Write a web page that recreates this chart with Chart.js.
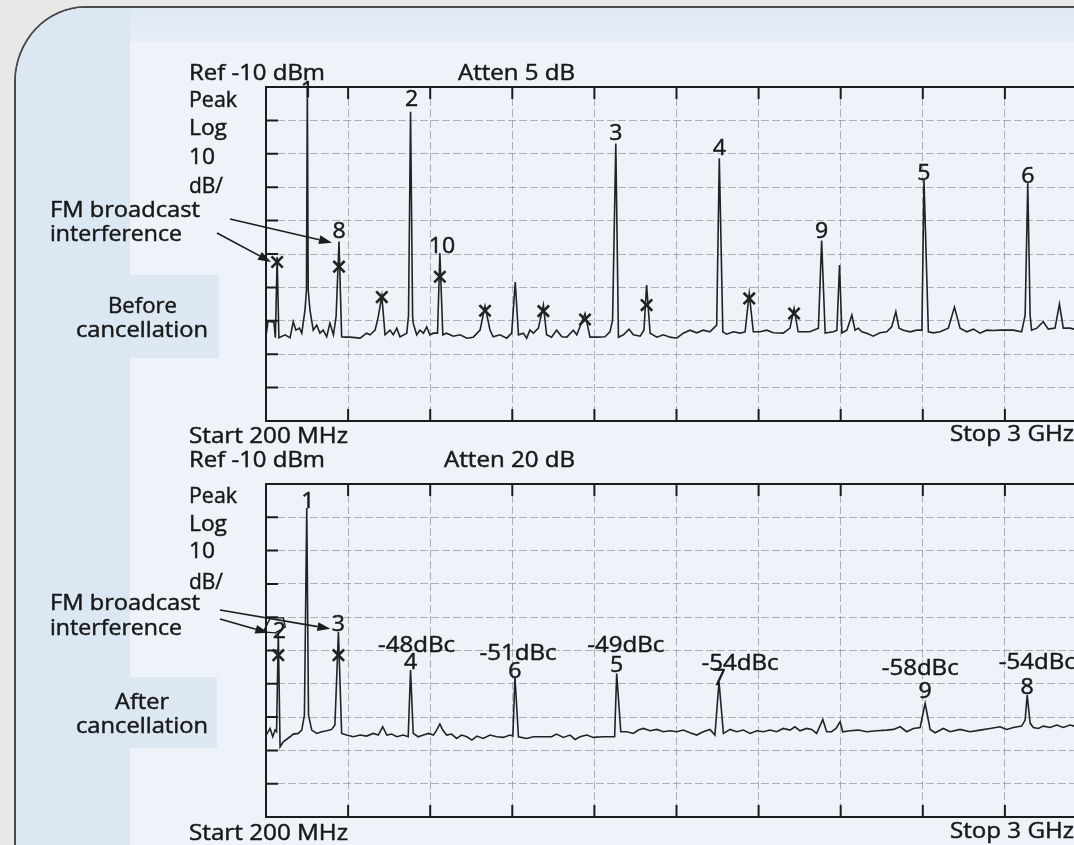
<!DOCTYPE html>
<html><head><meta charset="utf-8">
<script src="https://cdn.jsdelivr.net/npm/chart.js@4.4.1/dist/chart.umd.min.js"></script>
<style>
html,body{margin:0;padding:0;width:1074px;height:845px;overflow:hidden;background:#e8e8e8;}
#panel{position:absolute;left:14px;top:6px;width:1130px;height:900px;box-sizing:border-box;border:2px solid #4a4a4a;border-top-left-radius:72px 76px;overflow:hidden;background:#eef3f9;}
#strip{position:absolute;left:0;top:0;width:114px;height:100%;background:#dbe7f3;}
#band{position:absolute;left:0;top:0;width:100%;height:34px;background:linear-gradient(#dfe9f4,#e7eef7);}
.tab{position:absolute;background:#dde8f3;}
canvas{position:absolute;left:0;top:0;}
</style></head>
<body>
<div id="panel"><div id="band"></div><div id="strip"></div>
<div class="tab" style="left:114px;top:267px;width:89px;height:83px"></div>
<div class="tab" style="left:114px;top:669px;width:87px;height:71px"></div>
</div>
<canvas id="c1" width="1100" height="845" style="width:1100px;height:845px"></canvas>
<canvas id="c2" width="1100" height="845" style="width:1100px;height:845px"></canvas>
<script>
// ---------- data ----------
const freqTicks = [200,480,760,1040,1320,1600,1880,2160,2440,2720,3000];
const levelTicks = [-10,-20,-30,-40,-50,-60,-70,-80,-90,-100,-110];

const topTraceMHz = [200,207,227,232,238,244,265,282,293,302,314,322,333,338,341,344,350,361,373,384,395,407,418,430,439,449,458,469,487,521,543,555,572,582,595,606,623,634,646,657,680,686,693,700,702,714,725,737,748,759,771,785,793,803,816,839,862,885,907,930,947,964,975,998,1021,1038,1050,1061,1078,1089,1100,1112,1129,1146,1157,1174,1191,1209,1226,1248,1260,1288,1305,1328,1356,1373,1382,1393,1402,1419,1438,1453,1476,1489,1498,1510,1533,1555,1578,1601,1623,1646,1669,1691,1714,1737,1746,1758,1771,1794,1817,1834,1848,1862,1885,1908,1930,1964,1987,2001,2015,2033,2055,2084,2095,2107,2135,2147,2156,2164,2181,2198,2209,2220,2232,2249,2271,2294,2317,2334,2348,2359,2374,2397,2419,2437,2444,2459,2476,2499,2527,2548,2567,2590,2613,2635,2658,2681,2703,2749,2777,2789,2798,2806,2811,2829,2851,2868,2891,2906,2919,2942,2956,3000];
const topTraceDbm = [-84.6,-80.1,-80.4,-85.1,-60.9,-85.1,-84.2,-85.1,-80.3,-82.8,-82.2,-83.7,-76.8,-70.8,-10,-70.8,-76.8,-82.8,-81.3,-83.7,-82.8,-84.8,-80.7,-84.2,-78.8,-56.3,-84.8,-84.9,-84.9,-85.2,-83.7,-84.2,-82.8,-79.2,-72.6,-84.2,-82.8,-84.2,-82.2,-84.8,-83.7,-78.6,-17.4,-78.6,-80.7,-84.2,-82.8,-83.7,-81.8,-84.2,-83.7,-83.7,-59.7,-84.2,-83.7,-84.6,-84.2,-85.2,-84.9,-82.8,-75.6,-82.8,-84.8,-84.2,-85.2,-83.7,-68.4,-84.2,-83.7,-85.2,-82.8,-83.7,-82.2,-75.3,-84.2,-84.9,-82.8,-84.8,-84.9,-82.8,-84.2,-77.8,-84.9,-84.9,-84.8,-83.3,-79.8,-26.9,-84.9,-84.2,-82.5,-84.2,-84.6,-82.8,-69.3,-83.7,-84.9,-84.2,-84.9,-85.2,-83.7,-82.8,-83.6,-82.8,-83.3,-81.3,-31.3,-83.3,-84.0,-83.3,-83.7,-83.3,-71.8,-83.3,-83.3,-82.8,-83.6,-83.7,-82.2,-76.3,-83.3,-83.3,-83.3,-82.2,-56.0,-83.7,-83.3,-82.8,-63.3,-83.6,-82.8,-78.3,-82.8,-82.2,-83.3,-83.7,-84.6,-83.6,-83.3,-81.8,-77.3,-82.2,-82.8,-83.3,-82.8,-82.8,-37.8,-83.3,-83.6,-83.3,-82.2,-75.9,-82.2,-83.3,-82.5,-83.7,-82.8,-82.9,-82.8,-82.8,-83.3,-78.3,-38.8,-78.3,-82.8,-82.2,-80.3,-82.5,-82.2,-75.0,-82.2,-82.2,-82.5,-82.8];

const bottomTraceMHz = [200,204,214,223,231,236,242,248,259,282,293,310,322,331,339,345,356,373,390,407,424,435,447,458,475,498,521,543,566,583,598,612,629,646,668,685,693,702,719,737,754,771,782,793,803,816,833,850,867,885,902,919,941,964,987,1009,1032,1042,1049,1061,1089,1112,1146,1174,1191,1214,1237,1254,1271,1294,1316,1350,1379,1389,1396,1410,1430,1453,1470,1487,1510,1533,1555,1578,1601,1623,1646,1669,1691,1714,1731,1745,1760,1783,1805,1828,1851,1874,1896,1919,1942,1964,1987,2004,2021,2044,2061,2078,2099,2112,2129,2144,2158,2167,2192,2220,2249,2283,2317,2340,2363,2385,2408,2431,2448,2465,2482,2510,2533,2567,2601,2635,2670,2703,2726,2749,2777,2789,2796,2806,2817,2834,2851,2874,2897,2919,2942,2956,3000];
const bottomTraceDbm = [-85.4,-84.9,-83.4,-85.9,-83.9,-84.4,-54.7,-88.9,-87.4,-85.9,-85.1,-84.9,-83.9,-79.4,-17.2,-79.4,-83.9,-84.9,-84.4,-84.1,-83.7,-82.4,-54.4,-84.9,-85.4,-85.9,-85.4,-85.7,-84.9,-85.4,-82.9,-85.4,-85.1,-85.9,-85.4,-85.9,-65.9,-84.9,-85.9,-85.4,-84.9,-85.4,-83.9,-82.1,-83.9,-85.4,-85.1,-86.4,-85.4,-85.9,-86.9,-85.7,-86.4,-85.4,-85.9,-86.1,-85.4,-85.7,-67.9,-85.9,-86.4,-85.9,-85.9,-85.9,-85.1,-86.1,-85.4,-86.7,-85.9,-85.4,-86.1,-85.9,-85.9,-85.9,-66.9,-84.4,-84.4,-84.9,-83.9,-83.4,-84.1,-83.7,-84.4,-84.1,-84.4,-83.9,-84.7,-85.4,-84.4,-83.7,-85.4,-69.4,-84.9,-83.7,-84.4,-83.9,-84.9,-84.1,-84.4,-83.9,-84.4,-83.4,-83.9,-82.9,-84.1,-83.4,-83.7,-84.9,-80.7,-84.4,-84.4,-83.4,-81.4,-84.4,-84.1,-83.9,-84.4,-84.1,-83.9,-83.7,-82.9,-84.4,-83.4,-83.1,-75.9,-83.7,-84.7,-83.4,-84.4,-83.7,-84.4,-83.9,-83.4,-82.9,-83.7,-83.1,-82.7,-80.9,-73.4,-81.8,-83.1,-83.4,-82.7,-83.1,-82.4,-83.1,-82.4,-82.7,-82.7];

const topMarkMHz = [238,449,595,793,947,1146,1288,1498,1848,2001];
const topMarkDbm = [-62.4,-63.8,-72.9,-66.8,-77.0,-77.1,-79.6,-75.3,-73.3,-77.8];
const bottomMarkMHz = [242,447];
const bottomMarkDbm = [-61.4,-61.4];

const topPeakLabel = ['1','2','3','4','5','6','8','9','10'];
const topPeakMHz = [341,693,1393,1746,2444,2798,449,2095,793];
const topPeakDbm = [-10,-17.4,-26.9,-31.3,-37.8,-38.8,-56.3,-56.0,-59.7];

const bottomPeakLabel = ['1','2','3','4','6','5','7','9','8'];
const bottomPeakMHz = [339,242,447,693,1049,1396,1745,2448,2796];
const bottomPeakDbm = [-17.2,-54.7,-54.4,-65.9,-67.9,-66.9,-69.4,-75.9,-73.4];
const bottomPeakDbc = ['','','','-48dBc','-51dBc','-49dBc','-54dBc','-58dBc','-54dBc'];

// ---------- styling / layout ----------
const INK = '#1c1c1c';
const FONT = '"Open Sans", "Noto Sans", sans-serif';

function fitText(ctx, s, x, y, size, w, align) {
  ctx.save();
  ctx.font = size + 'px ' + FONT;
  ctx.textBaseline = 'alphabetic';
  ctx.textAlign = align || 'left';
  ctx.fillStyle = '#181818';
  ctx.strokeStyle = '#181818';
  ctx.lineWidth = 0.45;
  const m = ctx.measureText(s).width;
  const k = w ? w / m : 1.1;
  ctx.translate(x, y);
  ctx.scale(k, 1);
  ctx.fillText(s, 0, 0);
  ctx.strokeText(s, 0, 0);
  ctx.restore();
}
function arrow(ctx, x1, y1, x2, y2) {
  const ang = Math.atan2(y2 - y1, x2 - x1), L = 13, W = 4.5;
  const bx = x2 - L * Math.cos(ang), by = y2 - L * Math.sin(ang);
  ctx.beginPath(); ctx.moveTo(x1, y1); ctx.lineTo(bx, by); ctx.stroke();
  ctx.beginPath(); ctx.moveTo(x2, y2);
  ctx.lineTo(bx + W * Math.sin(ang), by - W * Math.cos(ang));
  ctx.lineTo(bx - W * Math.sin(ang), by + W * Math.cos(ang));
  ctx.closePath(); ctx.fill();
}

const annot = {
  id: 'annot',
  afterDatasetsDraw(chart, args, o) {
    const { ctx, chartArea: a, scales: { x, y } } = chart;
    ctx.save();
    ctx.strokeStyle = INK; ctx.fillStyle = INK; ctx.lineWidth = 2;
    ctx.strokeRect(a.left, a.top, a.right - a.left, a.bottom - a.top);
    ctx.beginPath();
    levelTicks.slice(1, -1).forEach(v => {
      const py = y.getPixelForValue(v);
      ctx.moveTo(a.left, py); ctx.lineTo(a.left + 12, py);
    });
    freqTicks.slice(1, -1).forEach(v => {
      const px = x.getPixelForValue(v);
      ctx.moveTo(px, a.top); ctx.lineTo(px, a.top + 12);
      ctx.moveTo(px, a.bottom); ctx.lineTo(px, a.bottom - 12);
    });
    ctx.stroke();

    // static texts
    o.texts.forEach(t => fitText(ctx, t[0], t[1], t[2], 21, t[3], t[4]));

    // peak labels anchored on data
    o.labels.forEach((s, i) => {
      const px = x.getPixelForValue(o.lf[i]);
      const py = y.getPixelForValue(o.lv[i]);
      const n = (o.nudge[s] || [0, o.dy]);
      const by = Math.max(py + n[1], a.top + 10);
      fitText(ctx, s, px + n[0], by, 21, null, 'center');
      if (o.dbc && o.dbc[i]) {
        const d = o.dbcNudge[s];
        fitText(ctx, o.dbc[i], px + d[0], by + d[1], 21, 77, 'center');
      }
    });

    // arrows from caption to interference peaks
    ctx.lineWidth = 1.7;
    o.arrows.forEach(ar => {
      const tx = x.getPixelForValue(ar.f) + ar.dx, ty = y.getPixelForValue(ar.v) + ar.dy;
      arrow(ctx, ar.tail[0], ar.tail[1], tx, ty);
    });
    if (o.loop) {
      const cx = x.getPixelForValue(o.loop.f), cy = y.getPixelForValue(o.loop.v);
      ctx.lineWidth = 1.4;
      ctx.beginPath();
      o.loop.pts.forEach((p, k) => k ? ctx.lineTo(cx + p[0], cy + p[1]) : ctx.moveTo(cx + p[0], cy + p[1]));
      ctx.closePath(); ctx.stroke();
    }
    ctx.restore();
  }
};

function makeChart(id, pad, fx, fy, mx, my, plug) {
  return new Chart(document.getElementById(id), {
    type: 'scatter',
    data: {
      datasets: [
        { data: fx.map((f, i) => ({ x: f, y: fy[i] })), showLine: true, pointRadius: 0,
          borderColor: '#222', borderWidth: 1.6, tension: 0, order: 2 },
        { data: mx.map((f, i) => ({ x: f, y: my[i] })), showLine: false, pointStyle: 'crossRot',
          pointRadius: 8, borderWidth: 2.6, borderColor: '#222', backgroundColor: '#222', order: 1 }
      ]
    },
    options: {
      responsive: false, animation: false, devicePixelRatio: 1, events: [],
      layout: { padding: pad },
      plugins: { legend: { display: false }, tooltip: { enabled: false }, annot: plug },
      scales: {
        x: { type: 'linear', min: 200, max: 3000,
             afterBuildTicks: s => { s.ticks = freqTicks.map(v => ({ value: v })); },
             ticks: { display: false },
             grid: { drawTicks: false, color: 'rgba(105,112,120,0.5)', lineWidth: 1 },
             border: { display: false, dash: [8, 3] } },
        y: { type: 'linear', min: -110, max: -10,
             afterBuildTicks: s => { s.ticks = levelTicks.map(v => ({ value: v })); },
             ticks: { display: false },
             grid: { drawTicks: false, color: 'rgba(105,112,120,0.5)', lineWidth: 1 },
             border: { display: false, dash: [8, 3] } }
      }
    },
    plugins: [annot]
  });
}

makeChart('c1', { left: 266, right: 13, top: 87, bottom: 424 },
  topTraceMHz, topTraceDbm, topMarkMHz, topMarkDbm, {
    texts: [
      ['Ref -10 dBm', 189, 80, 136], ['Atten 5 dB', 458, 80, 117],
      ['Peak', 189, 107, 48], ['Log', 189, 135, 38], ['10', 189, 164, 26], ['dB/', 189, 193, 34],
      ['FM broadcast', 50, 217, 150], ['interference', 50, 241, 132],
      ['Before', 142.5, 313, 69, 'center'], ['cancellation', 142, 337, 132, 'center'],
      ['Start 200 MHz', 189, 443, 159], ['Stop 3 GHz', 950, 441, 124]
    ],
    labels: topPeakLabel, lf: topPeakMHz, lv: topPeakDbm, dy: -3,
    nudge: { '2': [1, -6], '5': [0, 0], '6': [0, 0], '10': [2, 0], '8': [0, -4] },
    arrows: [
      { tail: [217, 233], f: topMarkMHz[0], v: topMarkDbm[0], dx: -6, dy: 0 },
      { tail: [230, 219], f: topPeakMHz[6], v: topPeakDbm[6], dx: -7, dy: 1 }
    ]
  });

makeChart('c2', { left: 266, right: 13, top: 484, bottom: 28 },
  bottomTraceMHz, bottomTraceDbm, bottomMarkMHz, bottomMarkDbm, {
    texts: [
      ['Ref -10 dBm', 189, 467, 136], ['Atten 20 dB', 444, 467, 131],
      ['Peak', 189, 503, 48], ['Log', 189, 531, 38], ['10', 189, 558, 26], ['dB/', 189, 589, 34],
      ['FM broadcast', 50, 610, 150], ['interference', 50, 635, 132],
      ['After', 142, 709, 54, 'center'], ['cancellation', 142, 733, 132, 'center'],
      ['Start 200 MHz', 189, 840, 159], ['Stop 3 GHz', 950, 838, 124]
    ],
    labels: bottomPeakLabel, lf: bottomPeakMHz, lv: bottomPeakDbm, dy: -1,
    nudge: { '1': [1, 0], '2': [1, 5], '7': [0, 3], '9': [0, -5], '6': [0, 1] },
    dbc: bottomPeakDbc,
    dbcNudge: { '4': [6, -17], '6': [3, -18], '5': [9, -20], '7': [21, -15], '9': [-5, -23], '8': [10, -25] },
    arrows: [
      { tail: [220, 619], f: bottomPeakMHz[1], v: bottomPeakDbm[1], dx: -10, dy: 0 },
      { tail: [220, 610], f: bottomPeakMHz[2], v: bottomPeakDbm[2], dx: -8, dy: -3 }
    ],
    loop: { f: bottomPeakMHz[1], v: bottomPeakDbm[1],
            pts: [[-15, -1], [-8, -15], [5, -15], [7, -6], [-3, 0]] }
  });
</script>
</body></html>
